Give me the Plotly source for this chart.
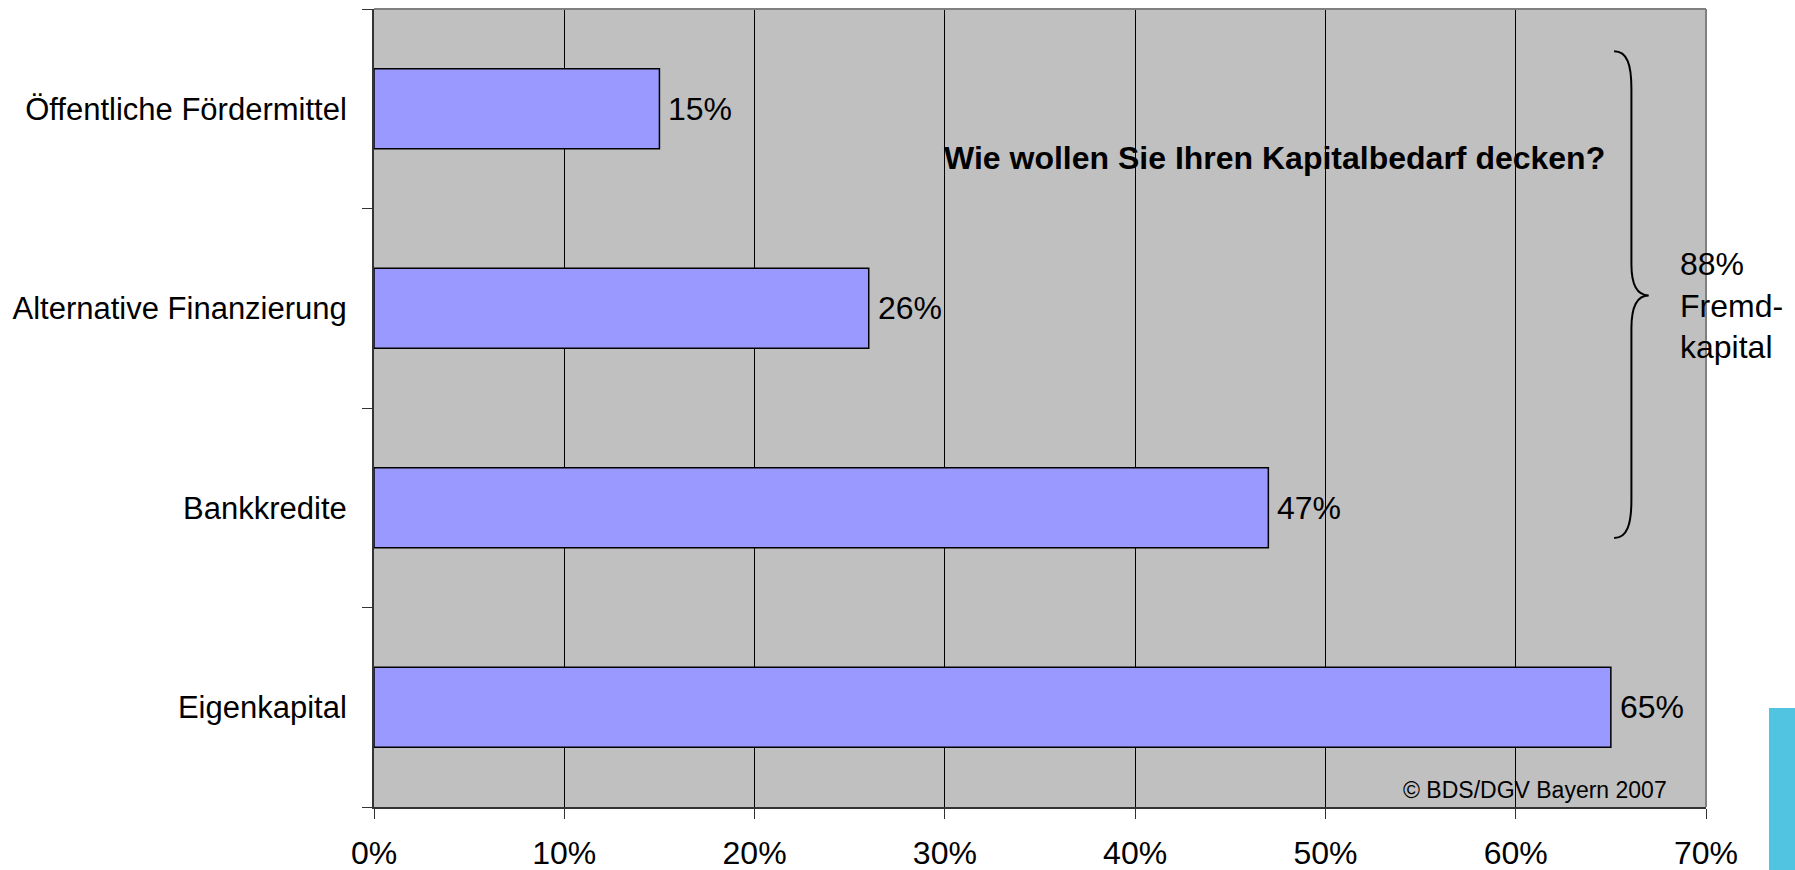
import plotly.graph_objects as go

categories = ["Eigenkapital", "Bankkredite", "Alternative Finanzierung", "Öffentliche Fördermittel"]
values = [65, 47, 26, 15]
x_ticks = [0, 10, 20, 30, 40, 50, 60, 70]
x_ticklabels = [f"{v}%" for v in x_ticks]
title_text = "Wie wollen Sie Ihren Kapitalbedarf decken?"
brace_text = "88%<br>Fremd-<br>kapital"
source_text = "© BDS/DGV Bayern 2007"

FONT = "Liberation Sans, Arial, sans-serif"

fig = go.Figure()
fig.add_trace(go.Bar(
    y=categories, x=values, orientation="h",
    marker=dict(color="#9999FF", line=dict(color="black", width=1.5)),
    width=0.4, hoverinfo="skip",
))

annotations = []
for c, v in zip(categories, values):
    annotations.append(dict(x=v, y=c, xref="x", yref="y", text=f"{v}%",
                            showarrow=False, xanchor="left", yanchor="middle",
                            xshift=7, font=dict(family=FONT, size=32, color="black")))

annotations.append(dict(x=0.676, y=0.813, xref="paper", yref="paper", text=f"<b>{title_text}</b>",
                        showarrow=False, xanchor="center", yanchor="middle",
                        font=dict(family=FONT, size=32, color="black")))
annotations.append(dict(x=0.979, y=0.628, xref="paper", yref="paper", text=brace_text,
                        showarrow=False, xanchor="left", yanchor="middle", align="left",
                        font=dict(family=FONT, size=32, color="black")))
annotations.append(dict(x=0.972, y=0.021, xref="paper", yref="paper", text=source_text,
                        showarrow=False, xanchor="right", yanchor="middle",
                        font=dict(family=FONT, size=23, color="black")))

# right curly brace in plot-domain (paper) coordinates
brace = ("M 0.931,0.947 C 0.941,0.947 0.944,0.93 0.944,0.90 "
         "L 0.944,0.68 C 0.944,0.655 0.948,0.641 0.957,0.641 "
         "C 0.948,0.641 0.944,0.627 0.944,0.60 "
         "L 0.944,0.385 C 0.944,0.355 0.941,0.337 0.931,0.337")

shapes = [
    dict(type="path", path=brace, xref="paper", yref="paper",
         line=dict(color="black", width=2), layer="above"),
    # plot frame top and right edges
    dict(type="line", xref="paper", yref="paper", x0=0, x1=1, y0=1, y1=1,
         line=dict(color="#808080", width=2), layer="above"),
    dict(type="line", xref="paper", yref="paper", x0=1, x1=1, y0=0, y1=1,
         line=dict(color="#808080", width=2), layer="above"),
    # cyan slide decoration at the right edge
    dict(type="rect", xref="paper", yref="paper", x0=1.0473, x1=1.07, y0=0.124, y1=-0.09,
         fillcolor="#50C4E0", line=dict(width=0), layer="above"),
]

fig.update_layout(
    width=1795, height=870,
    margin=dict(l=374, r=89, t=9, b=63, autoexpand=False),
    paper_bgcolor="white", plot_bgcolor="#C0C0C0",
    showlegend=False,
    annotations=annotations, shapes=shapes,
    font=dict(family=FONT, size=32, color="black"),
    xaxis=dict(range=[0, 70], tickvals=x_ticks, ticktext=x_ticklabels,
               showgrid=True, gridcolor="black", gridwidth=1,
               showline=True, linecolor="#333333", linewidth=2,
               ticks="outside", ticklen=10, tickcolor="#333333", tickwidth=1,
               tickfont=dict(family=FONT, size=32, color="black"),
               ticklabelstandoff=7, zeroline=False, fixedrange=True, automargin=False),
    yaxis=dict(categoryorder="array", categoryarray=categories,
               tickson="boundaries", ticks="outside", ticklen=10, tickcolor="#333333",
               tickfont=dict(family=FONT, size=31, color="black"),
               showgrid=False, showline=True, linecolor="#333333", linewidth=2,
               ticklabelstandoff=19, fixedrange=True, automargin=False),
)

fig.write_html("out.html", config={"displayModeBar": False},
               post_script="document.body.style.margin='0';document.body.style.overflow='hidden';")
